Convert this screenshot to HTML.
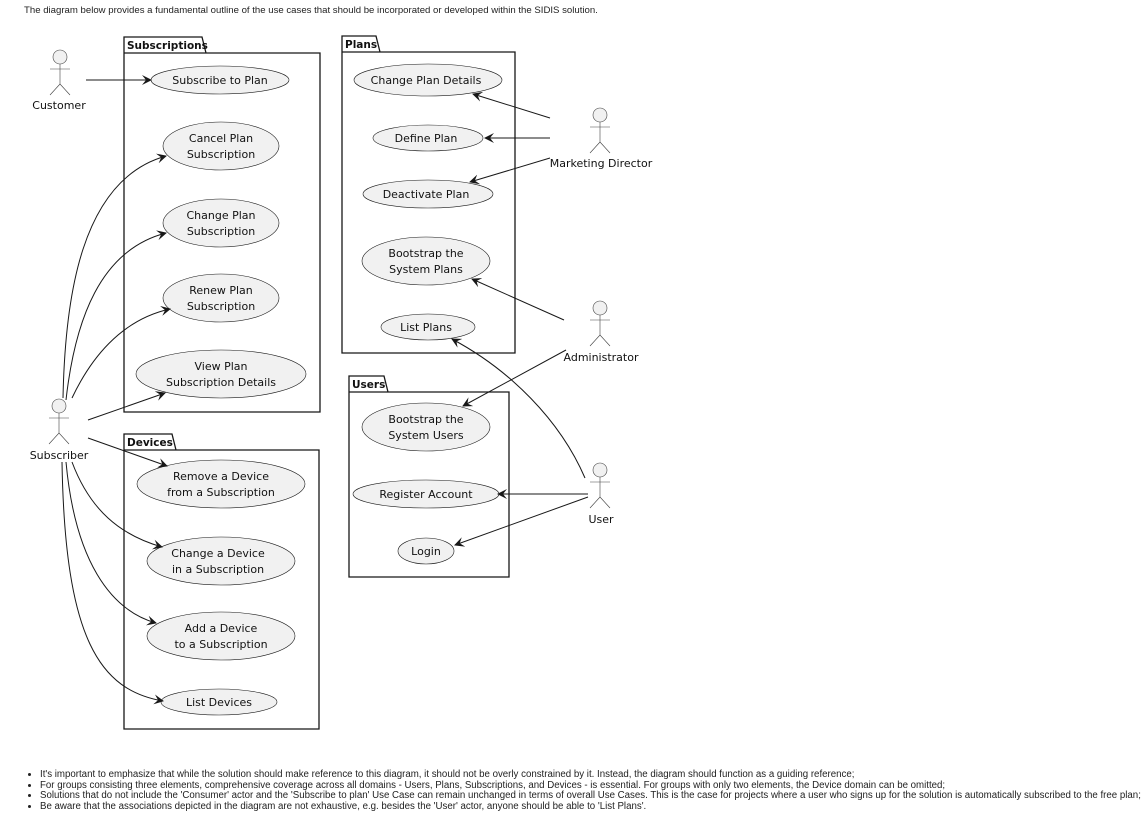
<!DOCTYPE html>
<html><head><meta charset="utf-8"><style>
html,body{margin:0;padding:0;background:#fff;width:1142px;height:828px;overflow:hidden;font-family:"Liberation Sans","DejaVu Sans",sans-serif}
.hdr{position:absolute;left:24px;top:5px;font-size:9.6px;color:#222}
ul{position:absolute;left:24px;top:770px;margin:0;padding-left:16px;font-size:9.7px;color:#222;line-height:10.5px;white-space:nowrap}
svg{position:absolute;left:0;top:0}
svg text{font-family:"DejaVu Sans","Liberation Sans",sans-serif;font-size:11px;fill:#111}
.uc{fill:#f1f1f1;stroke:#181818;stroke-width:0.6}
.pk{fill:none;stroke:#181818;stroke-width:1.3}
.ed{fill:none;stroke:#181818;stroke-width:1}
.ac{fill:none;stroke:#444;stroke-width:0.6}
.pt{font-weight:bold;font-size:10.5px}
</style></head><body>
<div class="hdr">The diagram below provides a fundamental outline of the use cases that should be incorporated or developed within the SIDIS solution.</div>
<svg width="1142" height="828" viewBox="0 0 1142 828">
<defs><marker id="a" markerWidth="10" markerHeight="10" refX="9" refY="5" orient="auto" markerUnits="userSpaceOnUse"><path d="M0,0 L10,5 L0,10 L4,5 Z" fill="#181818"/></marker></defs>
<path class="pk" d="M124,53 V37 H202 L206,53 M124,53 H320 V412 H124 Z"/>
<text x="127" y="49" class="pt">Subscriptions</text>
<path class="pk" d="M342,52 V36 H376 L380,52 M342,52 H515 V353 H342 Z"/>
<text x="345" y="48" class="pt">Plans</text>
<path class="pk" d="M349,392 V376 H384 L388,392 M349,392 H509 V577 H349 Z"/>
<text x="352" y="388" class="pt">Users</text>
<path class="pk" d="M124,450 V434 H172 L176,450 M124,450 H319 V729 H124 Z"/>
<text x="127" y="446" class="pt">Devices</text>
<g text-anchor="middle">
<ellipse class="uc" cx="220" cy="80" rx="69" ry="14"/><text x="220" y="84">Subscribe to Plan</text>
<ellipse class="uc" cx="221" cy="146" rx="58" ry="24"/><text x="221" y="142">Cancel Plan</text><text x="221" y="158">Subscription</text>
<ellipse class="uc" cx="221" cy="223" rx="58" ry="24"/><text x="221" y="219">Change Plan</text><text x="221" y="235">Subscription</text>
<ellipse class="uc" cx="221" cy="298" rx="58" ry="24"/><text x="221" y="294">Renew Plan</text><text x="221" y="310">Subscription</text>
<ellipse class="uc" cx="221" cy="374" rx="85" ry="24"/><text x="221" y="370">View Plan</text><text x="221" y="386">Subscription Details</text>
<ellipse class="uc" cx="221" cy="484" rx="84" ry="24"/><text x="221" y="480">Remove a Device</text><text x="221" y="496">from a Subscription</text>
<ellipse class="uc" cx="221" cy="561" rx="74" ry="24"/><text x="218" y="557">Change a Device</text><text x="218" y="573">in a Subscription</text>
<ellipse class="uc" cx="221" cy="636" rx="74" ry="24"/><text x="221" y="632">Add a Device</text><text x="221" y="648">to a Subscription</text>
<ellipse class="uc" cx="219" cy="702" rx="58" ry="13"/><text x="219" y="706">List Devices</text>
<ellipse class="uc" cx="428" cy="80" rx="74" ry="16"/><text x="426" y="84">Change Plan Details</text>
<ellipse class="uc" cx="428" cy="138" rx="55" ry="13"/><text x="426" y="142">Define Plan</text>
<ellipse class="uc" cx="428" cy="194" rx="65" ry="14"/><text x="426" y="198">Deactivate Plan</text>
<ellipse class="uc" cx="426" cy="261" rx="64" ry="24"/><text x="426" y="257">Bootstrap the</text><text x="426" y="273">System Plans</text>
<ellipse class="uc" cx="428" cy="327" rx="47" ry="13"/><text x="426" y="331">List Plans</text>
<ellipse class="uc" cx="426" cy="427" rx="64" ry="24"/><text x="426" y="423">Bootstrap the</text><text x="426" y="439">System Users</text>
<ellipse class="uc" cx="426" cy="494" rx="73" ry="14"/><text x="426" y="498">Register Account</text>
<ellipse class="uc" cx="426" cy="551" rx="28" ry="13"/><text x="426" y="555">Login</text>
</g>
<g class="ac">
<g transform="translate(60,57)"><circle cx="0" cy="0" r="7" fill="#f1f1f1"/><path d="M0,7 V27 M-10,12 H10 M0,27 L-10,38 M0,27 L10,38"/></g>
<g transform="translate(59,406)"><circle cx="0" cy="0" r="7" fill="#f1f1f1"/><path d="M0,7 V27 M-10,12 H10 M0,27 L-10,38 M0,27 L10,38"/></g>
<g transform="translate(600,115)"><circle cx="0" cy="0" r="7" fill="#f1f1f1"/><path d="M0,7 V27 M-10,12 H10 M0,27 L-10,38 M0,27 L10,38"/></g>
<g transform="translate(600,308)"><circle cx="0" cy="0" r="7" fill="#f1f1f1"/><path d="M0,7 V27 M-10,12 H10 M0,27 L-10,38 M0,27 L10,38"/></g>
<g transform="translate(600,470)"><circle cx="0" cy="0" r="7" fill="#f1f1f1"/><path d="M0,7 V27 M-10,12 H10 M0,27 L-10,38 M0,27 L10,38"/></g>
</g>
<g text-anchor="middle">
<text x="59" y="109">Customer</text>
<text x="59" y="459">Subscriber</text>
<text x="601" y="167">Marketing Director</text>
<text x="601" y="361">Administrator</text>
<text x="601" y="523">User</text>
</g>
<g class="ed" marker-end="url(#a)">
<path d="M86,80 H151"/>
<path d="M63,398 C65,300 80,180 166,156"/>
<path d="M66,400 C75,320 100,250 166,233"/>
<path d="M72,398 C90,360 120,320 170,309"/>
<path d="M88,420 L165,393"/>
<path d="M88,438 L167,466"/>
<path d="M72,462 C90,510 120,535 162,547"/>
<path d="M66,462 C75,560 110,610 156,623"/>
<path d="M62,462 C65,640 100,690 163,701"/>
<path d="M550,118 L473,94"/>
<path d="M550,138 H485"/>
<path d="M550,158 L470,182"/>
<path d="M564,320 L472,279"/>
<path d="M566,350 L463,406"/>
<path d="M585,478 C560,420 510,370 452,339"/>
<path d="M588,494 H498"/>
<path d="M588,497 L455,545"/>
</g>
</svg>
<ul>
<li>It's important to emphasize that while the solution should make reference to this diagram, it should not be overly constrained by it. Instead, the diagram should function as a guiding reference;</li>
<li>For groups consisting three elements, comprehensive coverage across all domains - Users, Plans, Subscriptions, and Devices - is essential. For groups with only two elements, the Device domain can be omitted;</li>
<li>Solutions that do not include the 'Consumer' actor and the 'Subscribe to plan' Use Case can remain unchanged in terms of overall Use Cases. This is the case for projects where a user who signs up for the solution is automatically subscribed to the free plan;</li>
<li>Be aware that the associations depicted in the diagram are not exhaustive, e.g. besides the 'User' actor, anyone should be able to 'List Plans'.</li>
</ul>
</body></html>
